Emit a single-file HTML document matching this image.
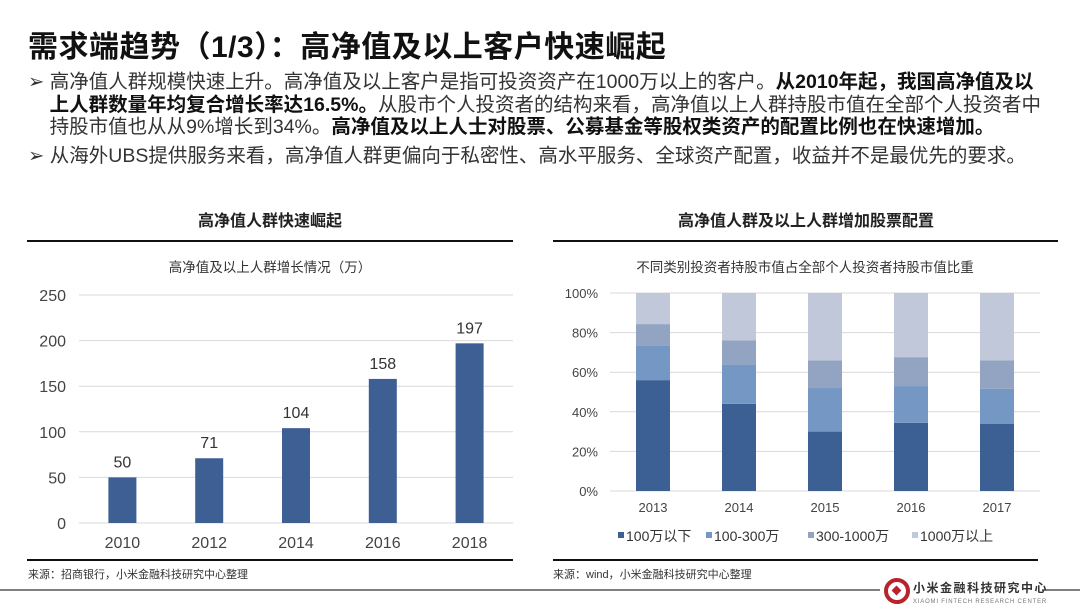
<!DOCTYPE html>
<html><head><meta charset="utf-8"><style>
body{margin:0;background:#fff;}
#page{position:relative;width:1080px;height:608px;overflow:hidden;background:#fff;font-family:"Liberation Sans","Noto Sans CJK SC",sans-serif;color:#222;}
.abs{position:absolute;white-space:nowrap;}
.b{font-weight:bold;}
</style></head><body>
<div id="page">
<div class="abs b" style="left:28px;top:22px;font-size:30px;letter-spacing:0.5px;color:#111;">需求端趋势（1/3）：高净值及以上客户快速崛起</div>
<div class="abs" style="left:28px;top:71px;font-size:19.5px;line-height:22.5px;color:#333;">
➢ 高净值人群规模快速上升。高净值及以上客户是指可投资资产在1000万以上的客户。<span class="b" style="color:#111">从2010年起，我国高净值及以</span><br>
&nbsp;&nbsp;&nbsp;&nbsp;<span class="b" style="color:#111">上人群数量年均复合增长率达16.5%。</span>从股市个人投资者的结构来看，高净值以上人群持股市值在全部个人投资者中<br>
&nbsp;&nbsp;&nbsp;&nbsp;持股市值也从从9%增长到34%。<span class="b" style="color:#111">高净值及以上人士对股票、公募基金等股权类资产的配置比例也在快速增加。</span></div>
<div class="abs" style="left:28px;top:145px;font-size:19.5px;line-height:22px;color:#333;">➢ 从海外UBS提供服务来看，高净值人群更偏向于私密性、高水平服务、全球资产配置，收益并不是最优先的要求。</div>

<div class="abs b" style="left:27px;width:486px;text-align:center;top:207px;font-size:16px;">高净值人群快速崛起</div>
<div class="abs b" style="left:553px;width:506px;text-align:center;top:207px;font-size:16px;">高净值人群及以上人群增加股票配置</div>

<svg class="abs" style="left:0;top:0" width="1080" height="608">
<line x1="27" y1="241" x2="513" y2="241" stroke="#111" stroke-width="2"/>
<line x1="553" y1="241" x2="1058" y2="241" stroke="#111" stroke-width="2"/>
<line x1="27" y1="560" x2="513" y2="560" stroke="#111" stroke-width="2"/>
<line x1="553" y1="560" x2="1038" y2="560" stroke="#111" stroke-width="2"/>
<line x1="0" y1="590" x2="880" y2="590" stroke="#555" stroke-width="1.5"/>
<line x1="1042" y1="590" x2="1080" y2="590" stroke="#555" stroke-width="1.5"/>
<text x="270" y="272" text-anchor="middle" font-size="13.5" fill="#333">高净值及以上人群增长情况（万）</text>
<text x="805" y="272" text-anchor="middle" font-size="13.5" fill="#333">不同类别投资者持股市值占全部个人投资者持股市值比重</text>
<text x="28" y="578" font-size="11" fill="#333">来源：招商银行，小米金融科技研究中心整理</text>
<text x="553" y="578" font-size="11" fill="#333">来源：wind，小米金融科技研究中心整理</text>
<g>
<circle cx="897" cy="591" r="11" fill="none" stroke="#b8232c" stroke-width="4"/>
<rect x="893" y="587" width="7" height="7" fill="#b8232c" transform="rotate(45 896.5 590.5)"/>
<text x="913" y="592" font-size="12" font-weight="bold" fill="#333" letter-spacing="1.5">小米金融科技研究中心</text>
<text x="913" y="603" font-size="6" fill="#777" letter-spacing="0.8">XIAOMI FINTECH RESEARCH CENTER</text>
</g>
<g id="left"></g><g id="right"></g>
</svg>
</div>
<script>
const leftCats=['2010','2012','2014','2016','2018'];
const leftVals=[50,71,104,158,197];
const leftTicks=[0,50,100,150,200,250];
const rightCats=['2013','2014','2015','2016','2017'];
const sLow=[56,44,30,34.4,34];
const sMid=[17.6,20,22,18.6,17.6];
const sHigh=[10.7,12,14,14.6,14.3];
const sTop=[15.7,24,34,32.4,34.1];
const seriesNames=['100万以下','100-300万','300-1000万','1000万以上'];
const rightTicks=[0,20,40,60,80,100];
const NS='http://www.w3.org/2000/svg';
function mk(tag,attrs,parent,txt){const e=document.createElementNS(NS,tag);for(const k in attrs)e.setAttribute(k,attrs[k]);if(txt!==undefined)e.textContent=txt;parent.appendChild(e);return e;}
const L=document.getElementById('left');
const lx0=79,lx1=513,ly0=523,ly1=295,lmax=250;
const ly=v=>ly0-(v/lmax)*(ly0-ly1);
const lbw=(lx1-lx0)/leftCats.length;
const lx=i=>lx0+lbw*(i+0.5);
leftTicks.forEach(t=>{
  const g=mk('line',{x1:lx0,x2:lx1,y1:ly(t),y2:ly(t),stroke:'#d9d9d9','stroke-width':1},L);
  
  
  const tx=mk('text',{x:66,y:ly(t)+6,'text-anchor':'end','font-size':16,fill:'#444'},L,String(t));
  
  
});
leftCats.forEach((c,i)=>{
  const h=ly0-ly(leftVals[i]);
  const r=mk('rect',{x:lx(i)-14,y:ly(leftVals[i]),width:28,height:h,fill:'#3d5f93'},L);
  
  
  const v=mk('text',{x:lx(i),y:ly(leftVals[i])-10,'text-anchor':'middle','font-size':16,fill:'#333'},L,String(leftVals[i]));
  
  
  const xl=mk('text',{x:lx(i),y:548,'text-anchor':'middle','font-size':16,fill:'#444'},L,c);
  
  
});
const R=document.getElementById('right');
const rx0=610,rx1=1040,ry0=491,ry1=293;
const ry=v=>ry0-(v/100)*(ry0-ry1);
const rbw=(rx1-rx0)/rightCats.length;
const rx=i=>rx0+rbw*(i+0.5);
const colors=['#3c6093','#7597c3','#92a4c1','#c1c8d9'];
const series=[sLow,sMid,sHigh,sTop];
rightTicks.forEach(t=>{
  const g=mk('line',{x1:rx0,x2:rx1,y1:ry(t),y2:ry(t),stroke:'#d9d9d9','stroke-width':1},R);
  
  
  const tx=mk('text',{x:598,y:ry(t)+5,'text-anchor':'end','font-size':13,fill:'#444'},R,t+'%');
  
  
});
rightCats.forEach((c,i)=>{
  let acc=0;
  series.forEach((s,k)=>{
    const y1=ry(acc+s[i]),y0=ry(acc);
    const r=mk('rect',{x:rx(i)-17,y:y1,width:34,height:y0-y1,fill:colors[k]},R);
    
    
    acc+=s[i];
  });
  const xl=mk('text',{x:rx(i),y:512,'text-anchor':'middle','font-size':13,fill:'#444'},R,c);
  
  
});
const legX=[618,706,808,912];
seriesNames.forEach((n,k)=>{
  const sw=mk('rect',{x:legX[k],y:532,width:6,height:6,fill:colors[k]},R);
  
  
  const t=mk('text',{x:legX[k]+8,y:541,'font-size':14,fill:'#333'},R,n);
  
  
});
</script>
</body></html>
